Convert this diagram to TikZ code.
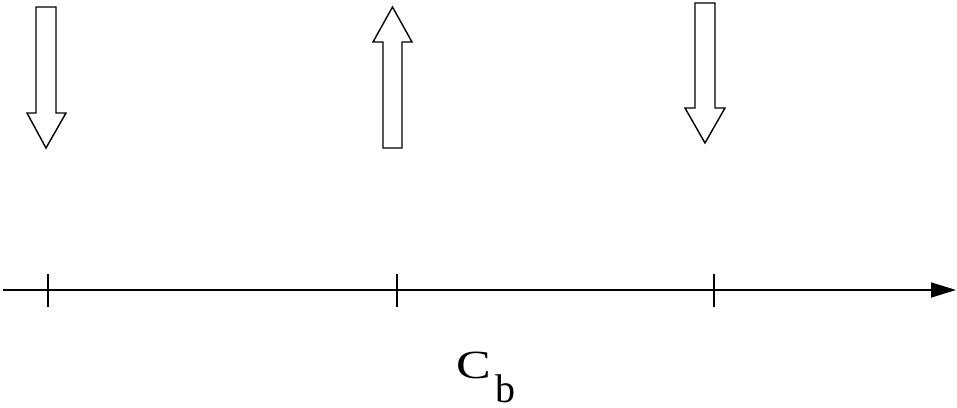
\documentclass[tikz,border=0pt]{standalone}
\usepackage{fontspec}
\setmainfont{Liberation Serif}
\usetikzlibrary{arrows.meta}

\begin{document}
\begin{tikzpicture}[
  x=1pt, y=-1pt,
  blockarrow/.style={draw, line width=1.4pt, line join=miter, fill=white},
  axisline/.style={line width=1.6pt, -{Triangle[length=25pt,width=15pt]}},
  tickline/.style={line width=1.6pt}
]
\useasboundingbox (0,0) rectangle (957,407);

% block arrows
\draw[blockarrow] (36,7) -- (56,7) -- (56,113) -- (66,113) -- (46,148) -- (27,113) -- (36,113) -- cycle;
\draw[blockarrow] (383,148) -- (402,148) -- (402,42) -- (412,42) -- (392.5,7) -- (373,42) -- (383,42) -- cycle;
\draw[blockarrow] (695,3) -- (715,3) -- (715,108) -- (725,108) -- (705,143) -- (685,108) -- (695,108) -- cycle;

% axis
\coordinate (start) at (3,290);
\coordinate (end) at (956,290);
\draw[axisline] (start) -- (end);
\foreach \name/\xpos in {t1/48, t2/397, t3/714} {
  \coordinate (\name) at (\xpos,290);
  \draw[tickline] (\name) ++(0,-16) -- ++(0,33);
}

\node[anchor=base west, inner sep=0pt, font=\fontsize{40}{48}\selectfont] (lbl) at (456,378) {\scalebox{1.3}[1]{C}\hspace{5pt}\raisebox{-24pt}{b}};
\end{tikzpicture}
\end{document}
